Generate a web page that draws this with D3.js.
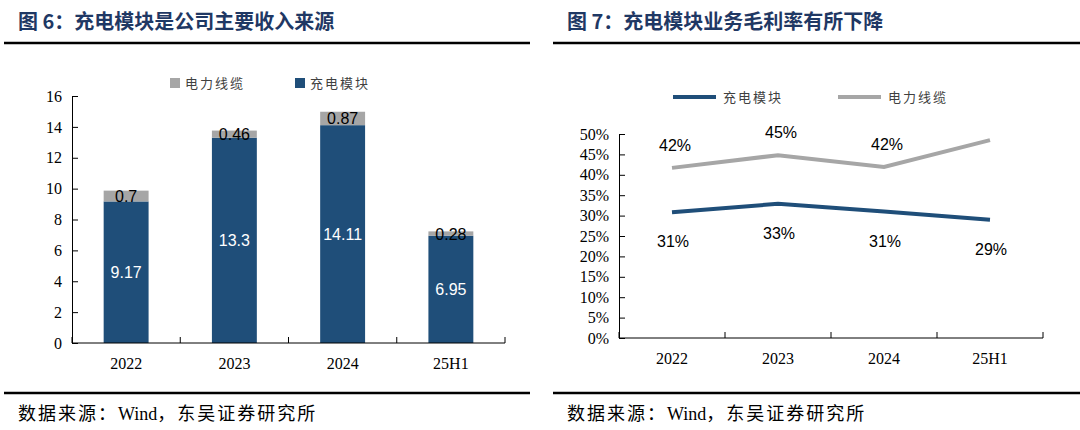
<!DOCTYPE html>
<html>
<head>
<meta charset="utf-8">
<script src="https://cdn.jsdelivr.net/npm/d3@7"></script>
<style>
  body { margin: 0; background: #fff; }
  svg { display: block; }
</style>
</head>
<body>
<svg id="chart" width="1080" height="430"></svg>
<script>
// data
const categories = ['2022', '2023', '2024', '25H1'];
const moduleRev = [9.17, 13.3, 14.11, 6.95];   // 充电模块 (亿元)
const cableRev = [0.7, 0.46, 0.87, 0.28];       // 电力线缆
const moduleMargin = [0.308, 0.329, 0.310, 0.290];
const cableMargin = [0.417, 0.448, 0.419, 0.485];
const revTicks = [0, 2, 4, 6, 8, 10, 12, 14, 16];
const marginTicks = [0, 0.05, 0.1, 0.15, 0.2, 0.25, 0.3, 0.35, 0.4, 0.45, 0.5];

const BLUE = '#1f4e79';
const GREY = '#a6a6a6';
const TITLE = '#1f3864';
const serif = '"Liberation Serif", "Times New Roman", "Noto Sans CJK SC", serif';
const sans = '"Liberation Sans", Arial, sans-serif';
const cjk = '"Noto Sans CJK SC", sans-serif';

const svg = d3.select('#chart');

// ---------- frame: titles, rules, source ----------
function frame(x0, x1, title) {
  svg.append('text')
    .attr('x', x0 + 14).attr('y', 29)
    .attr('font-family', cjk).attr('font-weight', 700)
    .attr('font-size', 20).attr('fill', TITLE)
    .text(title);
  svg.append('line')
    .attr('x1', x0).attr('x2', x1).attr('y1', 43).attr('y2', 43)
    .attr('stroke', '#000').attr('stroke-width', 2.5);
  svg.append('line')
    .attr('x1', x0).attr('x2', x1).attr('y1', 393).attr('y2', 393)
    .attr('stroke', '#000').attr('stroke-width', 2.5);
  const src = svg.append('text')
    .attr('x', x0 + 14).attr('y', 420)
    .attr('font-family', serif).attr('font-size', 18)
    .attr('fill', '#000');
  src.append('tspan').attr('letter-spacing', 2).text('数据来源：');
  src.append('tspan').text('Wind');
  src.append('tspan').attr('letter-spacing', 2).text('，东吴证券研究所');
}
frame(4, 530, '图 6：充电模块是公司主要收入来源');
frame(553, 1080, '图 7：充电模块业务毛利率有所下降');

// ---------- left: stacked bars ----------
const bx = d3.scaleBand().domain(categories).range([72, 505])
  .paddingInner(0.585).paddingOuter(0.2925);
const by = d3.scaleLinear().domain([0, 16]).range([343, 96]);

const barG = svg.append('g');
const yAxisL = barG.append('g')
  .attr('transform', 'translate(72,0)')
  .call(d3.axisRight(by).tickValues(revTicks).tickSize(6).tickFormat(d3.format('d')));
yAxisL.selectAll('text').attr('x', -10).attr('text-anchor', 'end');

barG.selectAll('rect.module')
  .data(categories)
  .join('rect')
  .attr('class', 'module')
  .attr('x', d => bx(d))
  .attr('width', bx.bandwidth())
  .attr('y', (d, i) => by(moduleRev[i]))
  .attr('height', (d, i) => by(0) - by(moduleRev[i]))
  .attr('fill', BLUE);

barG.selectAll('rect.cable')
  .data(categories)
  .join('rect')
  .attr('class', 'cable')
  .attr('x', d => bx(d))
  .attr('width', bx.bandwidth())
  .attr('y', (d, i) => by(moduleRev[i] + cableRev[i]))
  .attr('height', (d, i) => by(moduleRev[i]) - by(moduleRev[i] + cableRev[i]))
  .attr('fill', GREY);

barG.selectAll('text.mlab')
  .data(categories)
  .join('text')
  .attr('class', 'mlab')
  .attr('x', d => bx(d) + bx.bandwidth() / 2)
  .attr('y', (d, i) => by(moduleRev[i] / 2) + 6)
  .attr('text-anchor', 'middle')
  .attr('font-family', sans).attr('font-size', 16).attr('fill', '#fff')
  .text((d, i) => moduleRev[i]);

barG.selectAll('text.clab')
  .data(categories)
  .join('text')
  .attr('class', 'clab')
  .attr('x', d => bx(d) + bx.bandwidth() / 2)
  .attr('y', (d, i) => by(moduleRev[i] + cableRev[i] / 2) + 6)
  .attr('text-anchor', 'middle')
  .attr('font-family', sans).attr('font-size', 16).attr('fill', '#000')
  .text((d, i) => cableRev[i]);

// x axis with ticks at the category boundaries
const xAxisL = barG.append('g').attr('transform', 'translate(0,343)');
xAxisL.append('line').attr('x1', 72).attr('x2', 505).attr('stroke', '#000');
xAxisL.selectAll('line.tk')
  .data(d3.range(categories.length + 1))
  .join('line')
  .attr('class', 'tk')
  .attr('x1', i => 72 + i * bx.step()).attr('x2', i => 72 + i * bx.step())
  .attr('y1', 0).attr('y2', -6).attr('stroke', '#000');
xAxisL.selectAll('text')
  .data(categories)
  .join('text')
  .attr('x', d => bx(d) + bx.bandwidth() / 2)
  .attr('y', 26)
  .attr('text-anchor', 'middle')
  .attr('font-family', serif).attr('font-size', 16).attr('fill', '#000')
  .text(d => d);

// legend
const legL = [{ name: '电力线缆', color: GREY, x: 170 }, { name: '充电模块', color: BLUE, x: 295 }];
const legLG = svg.append('g').selectAll('g').data(legL).join('g')
  .attr('transform', d => `translate(${d.x},78)`);
legLG.append('rect').attr('width', 10).attr('height', 10).attr('fill', d => d.color);
legLG.append('text').attr('x', 15).attr('y', 10)
  .attr('font-family', cjk).attr('font-size', 13).attr('letter-spacing', 2)
  .attr('fill', '#404040').text(d => d.name);

// ---------- right: margin lines ----------
const lx = d3.scalePoint().domain(categories).range([619, 1043]).padding(0.5);
const ly = d3.scaleLinear().domain([0, 0.5]).range([338, 134]);

const lineG = svg.append('g');
const yAxisR = lineG.append('g')
  .attr('transform', 'translate(619,0)')
  .call(d3.axisRight(ly).tickValues(marginTicks).tickSize(6).tickFormat(d3.format('.0%')));
yAxisR.selectAll('text').attr('x', -10).attr('text-anchor', 'end');

const xAxisR = lineG.append('g').attr('transform', 'translate(0,338)');
xAxisR.append('line').attr('x1', 619).attr('x2', 1043).attr('stroke', '#000');
xAxisR.selectAll('line.tk')
  .data(d3.range(categories.length + 1))
  .join('line')
  .attr('class', 'tk')
  .attr('x1', i => 619 + i * lx.step()).attr('x2', i => 619 + i * lx.step())
  .attr('y1', 0).attr('y2', -6).attr('stroke', '#000');
xAxisR.selectAll('text')
  .data(categories)
  .join('text')
  .attr('x', d => lx(d))
  .attr('y', 26)
  .attr('text-anchor', 'middle')
  .attr('font-family', serif).attr('font-size', 16).attr('fill', '#000')
  .text(d => d);

const line = d3.line().x((d, i) => lx(categories[i])).y(d => ly(d));
lineG.append('path').datum(cableMargin).attr('d', line)
  .attr('fill', 'none').attr('stroke', GREY).attr('stroke-width', 4);
lineG.append('path').datum(moduleMargin).attr('d', line)
  .attr('fill', 'none').attr('stroke', BLUE).attr('stroke-width', 4);

const pct = d3.format('.0%');
lineG.selectAll('text.glab')
  .data(cableMargin.slice(0, 3))
  .join('text')
  .attr('class', 'glab')
  .attr('x', (d, i) => lx(categories[i]) + 3)
  .attr('y', d => ly(d) - 17)
  .attr('text-anchor', 'middle')
  .attr('font-family', sans).attr('font-size', 16).attr('fill', '#000')
  .text(d => pct(d));
lineG.selectAll('text.blab')
  .data(moduleMargin)
  .join('text')
  .attr('class', 'blab')
  .attr('x', (d, i) => lx(categories[i]) + 1)
  .attr('y', d => ly(d) + 35)
  .attr('text-anchor', 'middle')
  .attr('font-family', sans).attr('font-size', 16).attr('fill', '#000')
  .text(d => pct(d));

// legend
const legR = [{ name: '充电模块', color: BLUE, x: 673 }, { name: '电力线缆', color: GREY, x: 838 }];
const legRG = svg.append('g').selectAll('g').data(legR).join('g')
  .attr('transform', d => `translate(${d.x},97)`);
legRG.append('line').attr('x1', 0).attr('x2', 43)
  .attr('stroke', d => d.color).attr('stroke-width', 4);
legRG.append('text').attr('x', 50).attr('y', 5)
  .attr('font-family', cjk).attr('font-size', 13).attr('letter-spacing', 2)
  .attr('fill', '#404040').text(d => d.name);

svg.selectAll('.domain').attr('stroke', '#000');
svg.selectAll('.tick line').attr('stroke', '#000');
svg.selectAll('.tick text').attr('font-family', serif).attr('font-size', 16).attr('fill', '#000');
</script>
</body>
</html>
